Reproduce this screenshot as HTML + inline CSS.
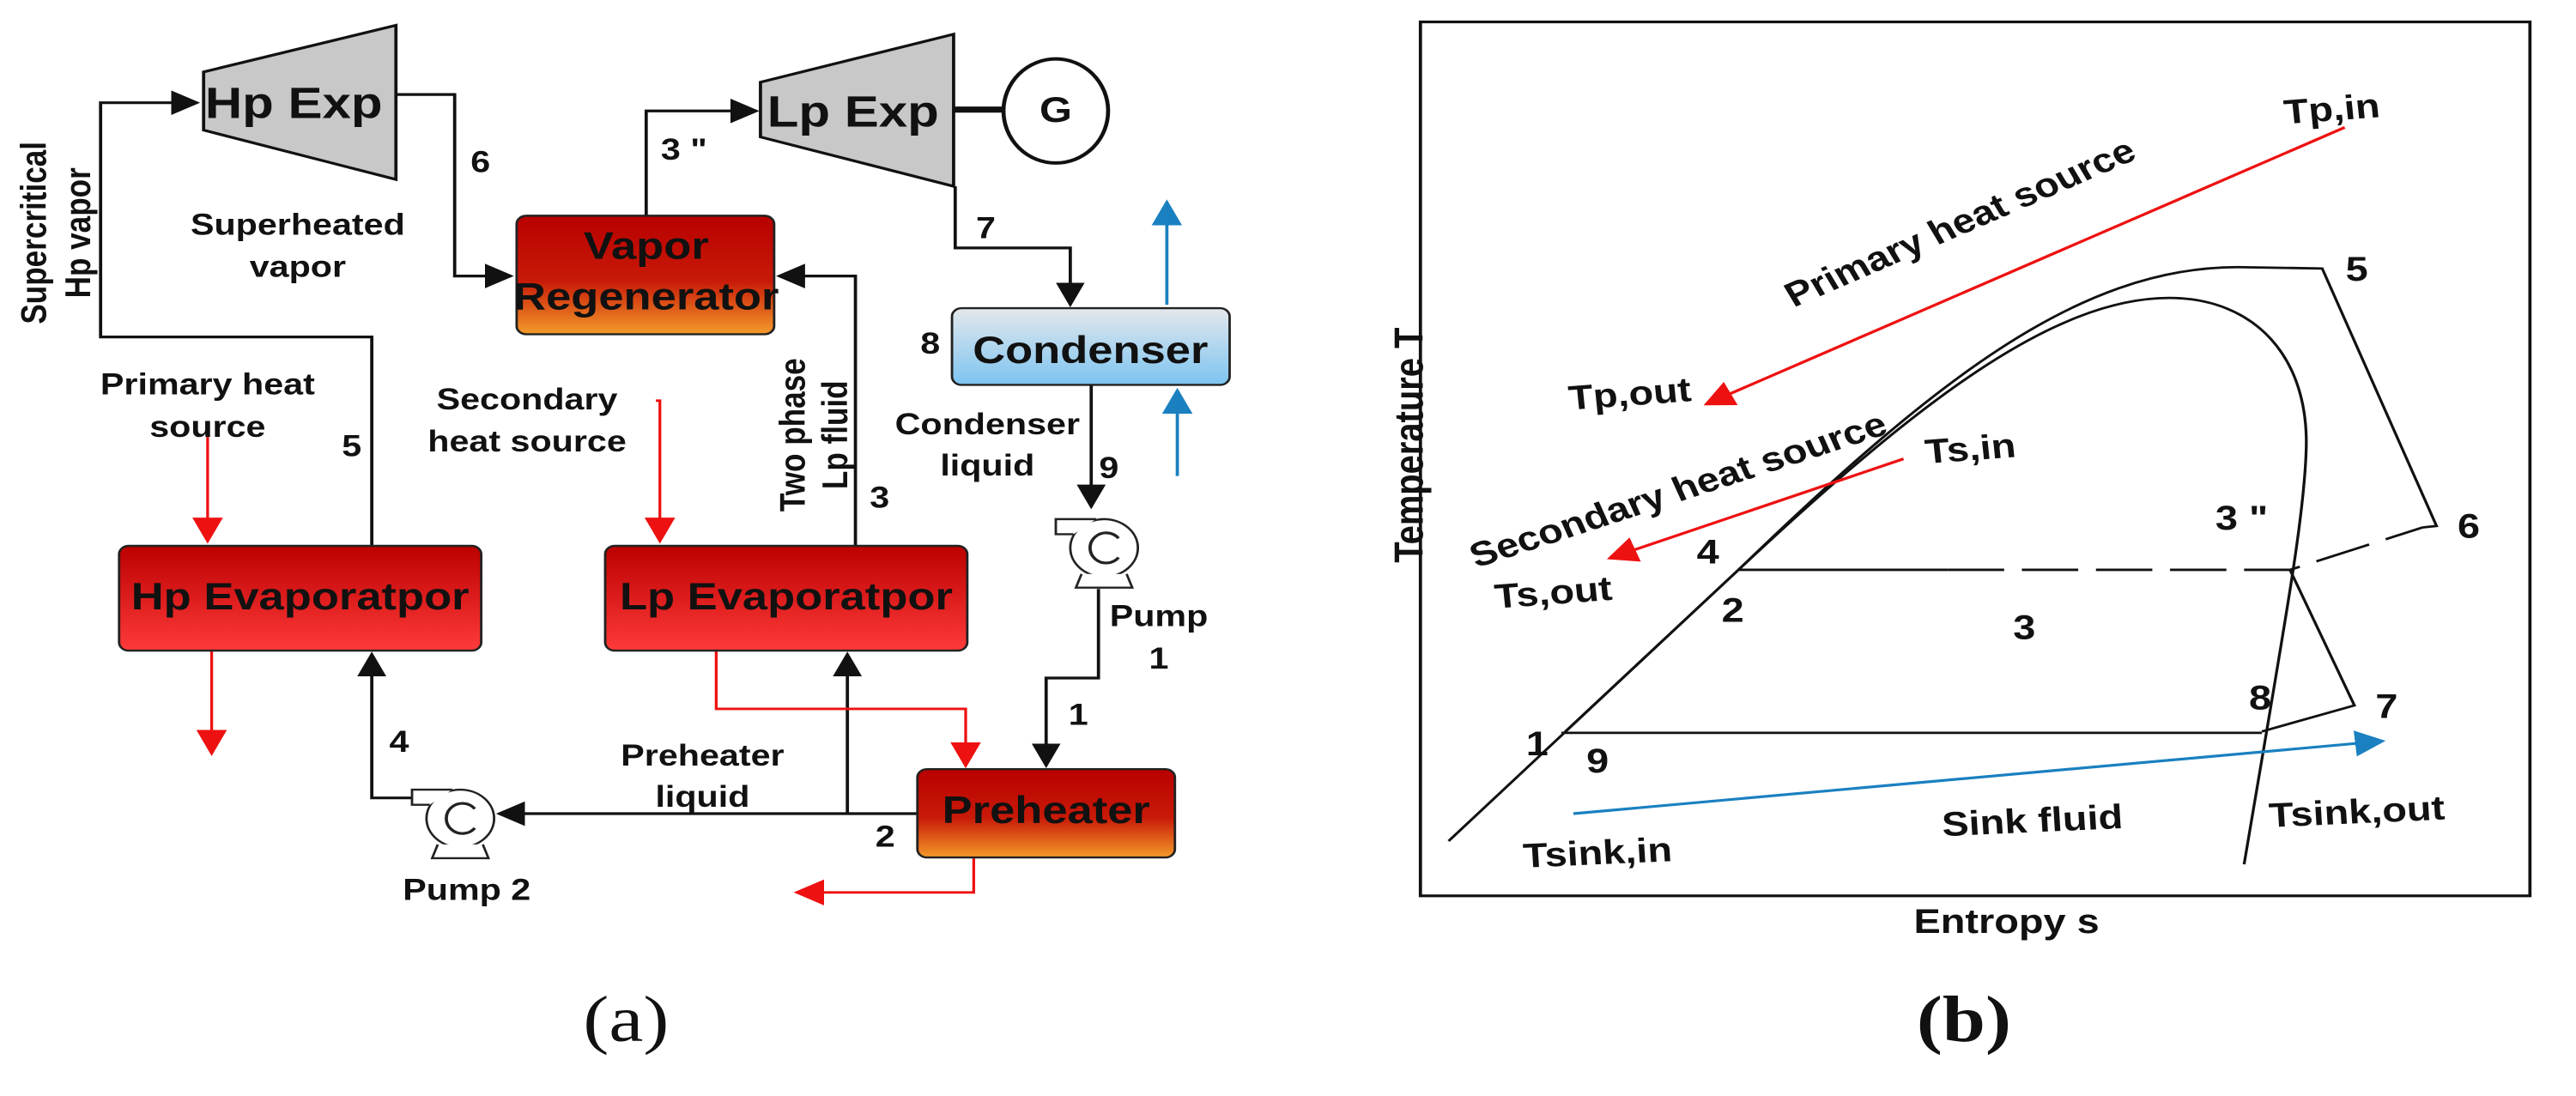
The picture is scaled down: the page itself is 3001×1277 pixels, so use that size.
<!DOCTYPE html>
<html><head><meta charset="utf-8"><style>
html,body{margin:0;padding:0;background:#fff;}
svg{display:block;}
text{font-family:"Liberation Sans",Arial,sans-serif;font-weight:bold;fill:#111;}
</style></head><body>
<svg width="3001" height="1277" viewBox="0 0 3001 1277" xmlns="http://www.w3.org/2000/svg">
<defs>
<marker id="ab" viewBox="0 0 10 10" refX="9" refY="5" markerWidth="36" markerHeight="36" markerUnits="userSpaceOnUse" orient="auto"><path d="M0,0 L10,5 L0,10 z" fill="#111"/></marker>
<marker id="ar" viewBox="0 0 10 10" refX="9" refY="5" markerWidth="38" markerHeight="38" markerUnits="userSpaceOnUse" orient="auto"><path d="M0,0 L10,5 L0,10 z" fill="#ee1111"/></marker>
<marker id="au" viewBox="0 0 10 10" refX="9" refY="5" markerWidth="38" markerHeight="38" markerUnits="userSpaceOnUse" orient="auto"><path d="M0,0 L10,5 L0,10 z" fill="#1a80c0"/></marker>
<linearGradient id="gro" x1="0" y1="0" x2="0" y2="1"><stop offset="0" stop-color="#b80000"/><stop offset="0.55" stop-color="#c81a08"/><stop offset="1" stop-color="#f39a2a"/></linearGradient>
<linearGradient id="grr" x1="0" y1="0" x2="0" y2="1"><stop offset="0" stop-color="#bb0000"/><stop offset="1" stop-color="#ff3a3a"/></linearGradient>
<linearGradient id="gb" x1="0" y1="0" x2="0" y2="1"><stop offset="0" stop-color="#e4e8ec"/><stop offset="1" stop-color="#7cc4f0"/></linearGradient>
<g id="pump">
<circle cx="0" cy="0" r="42" fill="#fff" stroke="#222" stroke-width="3"/>
<path d="M-10,-42 L-60,-42 L-60,-20 L-38,-20" fill="#fff" stroke="#222" stroke-width="3"/>
<path d="M-28,38 L-35,58 L35,58 L28,38" fill="#fff" stroke="#222" stroke-width="3"/>
<path d="M18,-14 A20,22 0 1 0 18,14" fill="none" stroke="#222" stroke-width="4"/>
</g>
</defs>

<!-- LEFT PANEL -->
<g transform="scale(0.9375 0.798)">
<g fill="none" stroke="#111" stroke-width="4">
<path d="M462,797 L462,492 L125,492 L125,150 L245,150" marker-end="url(#ab)"/>
<path d="M492,138 L565,138 L565,403 L635,403" marker-end="url(#ab)"/>
<path d="M803,315 L803,162 L940,162" marker-end="url(#ab)"/>
<path d="M1187,272 L1187,362 L1330,362 L1330,445" marker-end="url(#ab)"/>
<path d="M1063,797 L1063,403 L968,403" marker-end="url(#ab)"/>
<path d="M1356,562 L1356,740" marker-end="url(#ab)"/>
<path d="M1365,860 L1365,990 L1300,990 L1300,1118" marker-end="url(#ab)"/>
<path d="M1140,1188 L620,1188" marker-end="url(#ab)"/>
<path d="M1053,1188 L1053,955" marker-end="url(#ab)"/>
<path d="M515,1165 L462,1165 L462,955" marker-end="url(#ab)"/>
<path d="M1185,160 L1248,160" stroke-width="9"/>
</g>
<g fill="none" stroke="#ee1111" stroke-width="3.5">
<path d="M258,635 L258,790" marker-end="url(#ar)"/>
<path d="M263,950 L263,1100" marker-end="url(#ar)"/>
<path d="M815,585 L820,585 L820,790" marker-end="url(#ar)"/>
<path d="M890,950 L890,1035 L1200,1035 L1200,1118" marker-end="url(#ar)"/>
<path d="M1210,1252 L1210,1303 L990,1303" marker-end="url(#ar)"/>
</g>
<g fill="none" stroke="#1a80c0" stroke-width="4">
<path d="M1450,445 L1450,295" marker-end="url(#au)"/>
<path d="M1463,695 L1463,570" marker-end="url(#au)"/>
</g>
<polygon points="253,105 492,37 492,262 253,190" fill="#c8c8c8" stroke="#111" stroke-width="4"/>
<polygon points="945,120 1185,50 1185,272 945,200" fill="#c8c8c8" stroke="#111" stroke-width="4"/>
<ellipse cx="1312" cy="162" rx="65" ry="76" fill="#fff" stroke="#111" stroke-width="5"/>
<rect x="642" y="315" width="320" height="173" rx="12" fill="url(#gro)" stroke="#222" stroke-width="3"/>
<rect x="1183" y="450" width="345" height="112" rx="12" fill="url(#gb)" stroke="#222" stroke-width="3"/>
<rect x="148" y="797" width="450" height="153" rx="12" fill="url(#grr)" stroke="#222" stroke-width="3"/>
<rect x="752" y="797" width="450" height="153" rx="12" fill="url(#grr)" stroke="#222" stroke-width="3"/>
<rect x="1140" y="1123" width="320" height="129" rx="12" fill="url(#gro)" stroke="#222" stroke-width="3"/>
<use href="#pump" x="1372" y="800"/>
<use href="#pump" x="572" y="1195"/>
<g text-anchor="middle">
<text x="365" y="172" font-size="64">Hp Exp</text>
<text x="1060" y="185" font-size="64">Lp Exp</text>
<text x="1312" y="178" font-size="52">G</text>
<text x="803" y="378" font-size="56">Vapor</text>
<text x="803" y="452" font-size="56">Regenerator</text>
<text x="1355" y="530" font-size="56">Condenser</text>
<text x="373" y="890" font-size="56">Hp Evaporatpor</text>
<text x="977" y="890" font-size="56">Lp Evaporatpor</text>
<text x="1300" y="1202" font-size="56">Preheater</text>
</g>
<g text-anchor="middle" font-size="44">
<text x="42" y="355" transform="rotate(-90 42 340)">Supercritical</text>
<text x="97" y="355" transform="rotate(-90 97 340)">Hp vapor</text>
<text x="370" y="343">Superheated</text>
<text x="370" y="404">vapor</text>
<text x="597" y="251">6</text>
<text x="850" y="233">3 "</text>
<text x="1225" y="348">7</text>
<text x="1156" y="516">8</text>
<text x="258" y="576">Primary heat</text>
<text x="258" y="638">source</text>
<text x="437" y="666">5</text>
<text x="655" y="598">Secondary</text>
<text x="655" y="659">heat source</text>
<text x="985" y="650" transform="rotate(-90 985 635)">Two phase</text>
<text x="1038" y="650" transform="rotate(-90 1038 635)">Lp fluid</text>
<text x="1093" y="741">3</text>
<text x="1227" y="634">Condenser</text>
<text x="1227" y="694">liquid</text>
<text x="1378" y="698">9</text>
<text x="1440" y="914">Pump</text>
<text x="1440" y="976">1</text>
<text x="1340" y="1058">1</text>
<text x="496" y="1098">4</text>
<text x="873" y="1118">Preheater</text>
<text x="873" y="1178">liquid</text>
<text x="1100" y="1236">2</text>
<text x="580" y="1314">Pump 2</text>
</g>
<text x="778" y="1520" font-size="96" text-anchor="middle" style="font-family:'Liberation Serif',serif;font-weight:normal">(a)</text>
</g>

<!-- RIGHT PANEL -->
<g transform="translate(1500 0) scale(0.938 0.798)">
<rect x="165" y="32" width="1378" height="1276" fill="none" stroke="#111" stroke-width="4"/>
<g fill="none" stroke="#111" stroke-width="3.5">
<path d="M200,1228 L560,832 C 800,560 980,390 1180,390 L1285,392 L1427,768 L1410,770"/>
<path d="M345,1068 L560,832 C 780,590 950,435 1095,435 C 1200,435 1270,520 1265,660 C 1262,760 1240,900 1188,1262"/>
<path d="M560,832 L820,832"/>
<path d="M820,832 L1245,832 L1410,770" stroke-dasharray="70,22"/>
<path d="M1245,832 L1325,1030 L1210,1068"/>
<path d="M340,1070 L1210,1070"/>
</g>
<path d="M1313,186 L520,590" stroke="#ee1111" stroke-width="4" fill="none" marker-end="url(#ar)"/>
<path d="M765,670 L400,815" stroke="#ee1111" stroke-width="4" fill="none" marker-end="url(#ar)"/>
<path d="M355,1188 L1360,1082" stroke="#1a80c0" stroke-width="4" fill="none" marker-end="url(#au)"/>
<g text-anchor="middle" font-size="50">
<text x="150" y="668" transform="rotate(-90 150 650)">Temperature T</text>
<text x="893" y="1362">Entropy s</text>
<text x="1297" y="176" transform="rotate(-5 1297 160)">Tp,in</text>
<text x="425" y="592" transform="rotate(-5 425 575)">Tp,out</text>
<text x="835" y="342" transform="rotate(-27 835 325)">Primary heat source</text>
<text x="848" y="672" transform="rotate(-5 848 655)">Ts,in</text>
<text x="485" y="732" transform="rotate(-21 485 715)">Secondary heat source</text>
<text x="330" y="882" transform="rotate(-5 330 865)">Ts,out</text>
<text x="1328" y="410">5</text>
<text x="1467" y="785">6</text>
<text x="1185" y="773">3 "</text>
<text x="522" y="823">4</text>
<text x="553" y="908">2</text>
<text x="915" y="933">3</text>
<text x="1208" y="1036">8</text>
<text x="1365" y="1048">7</text>
<text x="310" y="1103">1</text>
<text x="385" y="1128">9</text>
<text x="925" y="1215" transform="rotate(-3 925 1198)">Sink fluid</text>
<text x="385" y="1262" transform="rotate(-3 385 1245)">Tsink,in</text>
<text x="1328" y="1202" transform="rotate(-3 1328 1185)">Tsink,out</text>
</g>
<text x="840" y="1520" font-size="96" text-anchor="middle" style="font-family:'Liberation Serif',serif;font-weight:bold">(b)</text>
</g>
</svg>
</body></html>
